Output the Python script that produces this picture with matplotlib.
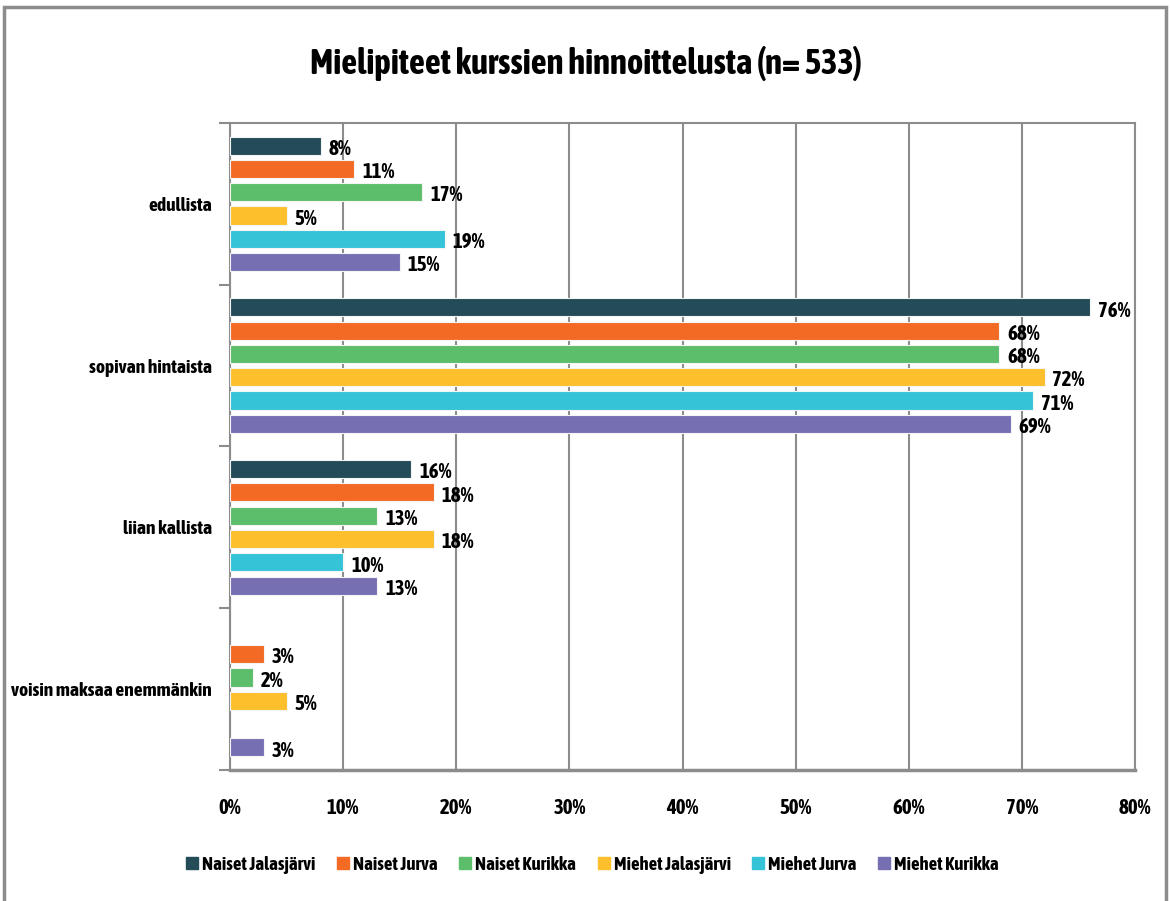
import matplotlib
matplotlib.use('Agg')
import matplotlib.pyplot as plt
import numpy as np
from matplotlib.lines import Line2D

plt.rcParams['font.family'] = ['Asap Condensed', 'Fira Sans Extra Condensed', 'DejaVu Sans']
plt.rcParams['font.weight'] = 'bold'

categories = ['edullista', 'sopivan hintaista', 'liian kallista', 'voisin maksaa enemmänkin']
series = ['Naiset Jalasjärvi', 'Naiset Jurva', 'Naiset Kurikka',
          'Miehet Jalasjärvi', 'Miehet Jurva', 'Miehet Kurikka']
colors = ['#234b58', '#f26a24', '#5cbd6a', '#fdc02c', '#35c3d8', '#7670b3']

# percent values per series, in category order (None = no bar)
naiset_jalasjarvi = [8, 76, 16, None]
naiset_jurva = [11, 68, 18, 3]
naiset_kurikka = [17, 68, 13, 2]
miehet_jalasjarvi = [5, 72, 18, 5]
miehet_jurva = [19, 71, 10, None]
miehet_kurikka = [15, 69, 13, 3]
values = [naiset_jalasjarvi, naiset_jurva, naiset_kurikka,
          miehet_jalasjarvi, miehet_jurva, miehet_kurikka]

xticks = [0, 10, 20, 30, 40, 50, 60, 70, 80]

fig = plt.figure(figsize=(11.7, 9.01), dpi=100)
ax = fig.add_axes([0.1966, 0.1454, 0.7735, 0.7181])

grid_c = '#8c8c8c'
step = 0.144
h = 0.112
fs = 15
y = np.arange(len(categories))
for j, (name, vals, c) in enumerate(zip(series, values, colors)):
    ys = y + (j - 2.5) * step
    for yi, v in zip(ys, vals):
        if v is None:
            continue
        ax.barh(yi, v, height=h, color=c, edgecolor='#f4f4f4', linewidth=0.8, zorder=3)
        ax.text(v + 0.7, yi + 0.02, f'{v}%', va='center', ha='left',
                fontsize=fs, fontweight='bold', zorder=4)

ax.set_xlim(0, 80)
ax.set_ylim(3.5, -0.5)
ax.set_xticks(xticks)
ax.set_xticklabels([f'{t}%' for t in xticks], fontsize=fs, fontweight='bold')
ax.tick_params(axis='x', length=0, pad=20)
ax.set_yticks(y)
ax.set_yticklabels(categories, fontsize=14, fontweight='bold')
ax.set_yticks(np.arange(-0.5, 4.0, 1.0), minor=True)
ax.tick_params(axis='y', which='major', length=0, pad=13)
ax.tick_params(axis='y', which='minor', length=8, width=1.5, color=grid_c)
ax.grid(axis='x', color=grid_c, linewidth=1.5, zorder=0)
ax.set_axisbelow(True)
for s in ax.spines.values():
    s.set_color(grid_c)
    s.set_linewidth(1.5)
ax.spines['bottom'].set_linewidth(2.5)

fig.text(0.501, 0.929, 'Mielipiteet kurssien hinnoittelusta (n= 533)',
         ha='center', va='center', fontsize=25, fontweight='bold')

handles = [Line2D([0], [0], marker='s', linestyle='none', markersize=8,
                  markerfacecolor=c, markeredgecolor=c) for c in colors]
fig.legend(handles, series, loc='center', bbox_to_anchor=(0.507, 0.04),
           ncol=6, frameon=False, fontsize=13.5, handlelength=0.5,
           handletextpad=0.3, columnspacing=1.2)

# outer chart frame
frame = plt.Rectangle((0.003, -0.05), 0.994, 1.042, transform=fig.transFigure,
                      fill=False, edgecolor='#8c8c8c', linewidth=2.5)
fig.patches.append(frame)

fig.savefig('out.png', dpi=100)
